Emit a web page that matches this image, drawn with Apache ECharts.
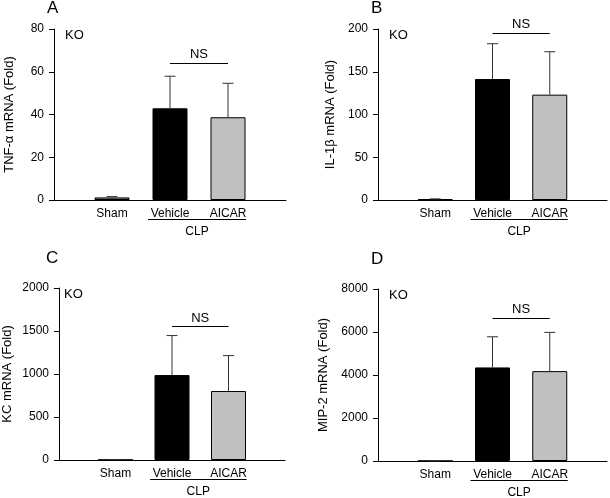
<!DOCTYPE html>
<html>
<head>
<meta charset="utf-8">
<script src="https://cdn.jsdelivr.net/npm/echarts@6/dist/echarts.min.js"></script>
<style>
  html, body { margin: 0; padding: 0; background: #fff; }
  #chart { width: 610px; height: 498px; }
</style>
</head>
<body>
<div id="chart"></div>
<script>
// categories (blank ends keep the groups off the axis edges)
const cats = ['', 'Sham', 'Vehicle', 'AICAR', '']
const groups = ['Sham', 'Vehicle', 'AICAR']

// means and upper error ends
const tnfMean = [1.2, 42.9, 38.7]
const tnfUpper = [1.6, 57.9, 54.6]
const il1bMean = [1, 141.5, 123.2]
const il1bUpper = [1.3, 182.8, 173.4]
const kcMean = [3, 988, 802]
const kcUpper = [4, 1447, 1214]
const mip2Mean = [5, 4352, 4180]
const mip2Upper = [6, 5778, 5982]

const nsLevel = [64.2, 195, 1552, 6635]
const yMax = [80, 200, 2000, 8000]
const yStep = [20, 50, 500, 2000]
const yNames = ['TNF-α mRNA (Fold)', 'IL-1β mRNA (Fold)', 'KC mRNA (Fold)', 'MIP-2 mRNA (Fold)']
const panelLetters = ['A', 'B', 'C', 'D']

const means = [tnfMean, il1bMean, kcMean, mip2Mean]
const uppers = [tnfUpper, il1bUpper, kcUpper, mip2Upper]
const barColors = ['#888888', '#000000', '#c0c0c0']

const font = 'Liberation Sans, Arial, sans-serif'
const grids = [
  { left: 54, top: 29, width: 232, height: 171 },
  { left: 378, top: 29, width: 230, height: 171 },
  { left: 53, top: 288, width: 232, height: 172 },
  { left: 378, top: 289, width: 230, height: 172 }
]
const nameGaps = [38, 41, 45, 48]

const chart = echarts.init(document.getElementById('chart'))

const errorItem = (params, api) => {
  const base = api.coord([api.value(0), api.value(1)])
  const top = api.coord([api.value(0), api.value(2)])
  const style = { stroke: '#333', lineWidth: 1 }
  return {
    type: 'group',
    children: [
      { type: 'line', shape: { x1: base[0], y1: base[1], x2: top[0], y2: top[1] }, style },
      { type: 'line', shape: { x1: top[0] - 5.5, y1: top[1], x2: top[0] + 5.5, y2: top[1] }, style }
    ]
  }
}

const series = []
means.forEach((m, i) => {
  series.push({
    type: 'bar',
    xAxisIndex: i,
    yAxisIndex: i,
    barWidth: 35,
    data: groups.map((g, j) => ({
      value: [g, m[j]],
      itemStyle: { color: barColors[j], borderColor: '#000', borderWidth: 1 }
    })),
    markLine: {
      silent: true,
      symbol: 'none',
      animation: false,
      lineStyle: { color: '#000', width: 1, type: 'solid' },
      label: {
        show: true,
        position: 'insideMiddleTop',
        distance: 2,
        formatter: 'NS',
        color: '#000',
        fontSize: 13,
        fontFamily: font
      },
      data: [[{ coord: ['Vehicle', nsLevel[i]] }, { coord: ['AICAR', nsLevel[i]] }]]
    }
  })
  series.push({
    type: 'custom',
    xAxisIndex: i,
    yAxisIndex: i,
    z: 3,
    renderItem: errorItem,
    data: groups.map((g, j) => [g, m[j], uppers[i][j]])
  })
})

chart.setOption({
  animation: false,
  grid: grids,
  xAxis: grids.map((g, i) => ({
    type: 'category',
    gridIndex: i,
    data: cats,
    boundaryGap: false,
    axisLine: { lineStyle: { color: '#000', width: 1 } },
    axisTick: { show: false },
    axisLabel: { color: '#000', fontSize: 12, fontFamily: font, margin: 8, interval: 0 }
  })),
  yAxis: grids.map((g, i) => ({
    type: 'value',
    gridIndex: i,
    min: 0,
    max: yMax[i],
    interval: yStep[i],
    name: yNames[i],
    nameLocation: 'middle',
    nameGap: nameGaps[i],
    nameTextStyle: { color: '#000', fontSize: 13, fontFamily: font },
    axisLine: { show: true, lineStyle: { color: '#000', width: 1 } },
    axisTick: { show: true, length: 5, lineStyle: { color: '#000' } },
    axisLabel: { color: '#000', fontSize: 12, fontFamily: font, margin: 10, formatter: v => String(v) },
    splitLine: { show: false }
  })),
  series
})

// panel letters, KO tags and the CLP bracket under Vehicle/AICAR
const graphic = []
grids.forEach((g, i) => {
  graphic.push({
    type: 'text',
    left: g.left - 7,
    top: g.top - (i < 2 ? 29 : 38),
    style: { text: panelLetters[i], font: '17px ' + font, fill: '#000' }
  })
  graphic.push({
    type: 'text',
    left: g.left + 11,
    top: g.top + 0,
    style: { text: 'KO', font: '13px ' + font, fill: '#000' }
  })
  const pv = chart.convertToPixel({ gridIndex: i }, ['Vehicle', 0])
  const pa = chart.convertToPixel({ gridIndex: i }, ['AICAR', 0])
  const x1 = pv[0] - 22
  const x2 = pa[0] + 18
  const y = pv[1] + 19.5
  graphic.push({
    type: 'line',
    shape: { x1, y1: y, x2, y2: y },
    style: { stroke: '#000', lineWidth: 1 }
  })
  graphic.push({
    type: 'text',
    x: (x1 + x2) / 2,
    y: y + 6,
    style: { text: 'CLP', font: '12px ' + font, fill: '#000', align: 'center', verticalAlign: 'top' }
  })
})
chart.setOption({ graphic })
</script>
</body>
</html>
